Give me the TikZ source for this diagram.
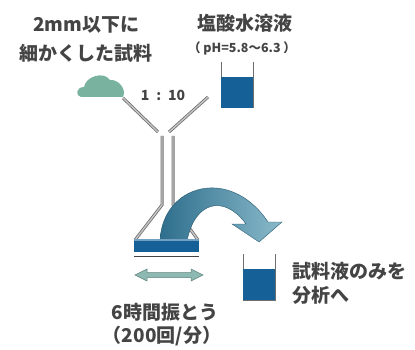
\documentclass[tikz,border=0pt]{standalone}
\usepackage{fontspec}
\setmainfont{Noto Sans CJK JP}
\usetikzlibrary{positioning}

\definecolor{liquid}{RGB}{22,96,152}
\definecolor{powder}{RGB}{122,178,160}
\definecolor{glass}{RGB}{110,110,110}
\definecolor{label}{RGB}{68,68,68}
\definecolor{pourdark}{RGB}{46,110,140}
\definecolor{pourlight}{RGB}{138,186,202}
\definecolor{shake}{RGB}{140,186,178}

\tikzset{
	jp/.style={text=label, font=\fontsize{19}{22}\selectfont\bfseries, inner sep=0pt},
	note/.style={text=label, font=\fontsize{12.5}{14}\selectfont\bfseries, inner sep=0pt},
	wall/.style={draw=glass, line width=1pt},
	tube/.style={draw=glass, line width=0.8pt, double=glass!40, double distance=1.4pt},
	beaker/.pic={
		\draw[wall] (0,0) -- (0,46) -- (32,46) -- (32,0);
		\fill[liquid] (0,15) rectangle (32,46);
	},
}

\begin{document}
\begin{tikzpicture}[x=1pt, y=-1pt]
	\useasboundingbox (0,0) rectangle (415,350);
	%
	\node[jp] (size) at (86,25) {2mm以下に};
	\node[jp] (sample) at (86,53) {細かくした試料};
	\node[jp] (acid) at (245,23) {塩酸水溶液};
	\node[note] (ph) at (242,48) {（ pH=5.8～6.3 ）};
	\node[note, font=\fontsize{14}{16}\selectfont\bfseries] (ratio) at (163,95) {1\hspace{0.5em}:\hspace{0.5em}10};
	\node[jp, anchor=west] (filtrate) at (292,271) {試料液のみを};
	\node[jp, anchor=west] (analysis) at (292,295) {分析へ};
	\node[jp] (shaking) at (165,312) {6時間振とう};
	\node[jp] (rate) at (162,336) {（200回/分）};
	%
	\fill[powder] (81,97) .. controls (75,96) and (76,87) .. (84,87)
		.. controls (86,76) and (104,71) .. (110,80)
		.. controls (118,79) and (127,89) .. (123,97) -- cycle;
	\pic at (221,62) {beaker};
	\pic at (243,254) {beaker};
	%
	\draw[tube] (123,98) -- (158,132);
	\draw[tube] (208,97) -- (169,132);
	\draw[tube] (162,136) -- (162,205) -- (135,240);
	\draw[tube] (173,136) -- (173,205) -- (198,240);
	%
	\draw[draw=pourdark!80!black, line width=0.4pt, left color=pourdark, right color=pourlight]
		(160,241) .. controls (162,185) and (230,165) .. (268,222)
		-- (282,222) -- (259,242) -- (232,224) -- (246,224)
		.. controls (225,195) and (195,200) .. (187,241) -- cycle;
	%
	\fill[liquid] (134,239) rectangle (199,252);
	\fill[liquid!60!white] (134,239) rectangle (199,240.5);
	\draw[glass!60!black, line width=1pt] (134,256) -- (199,256);
	%
	\draw[shake!70!black, fill=shake, line width=0.5pt]
		(135,275) -- (147,269) -- (147,272.5) -- (191,272.5) -- (191,269) -- (203,275)
		-- (191,281) -- (191,277.5) -- (147,277.5) -- (147,281) -- cycle;
\end{tikzpicture}
\end{document}
